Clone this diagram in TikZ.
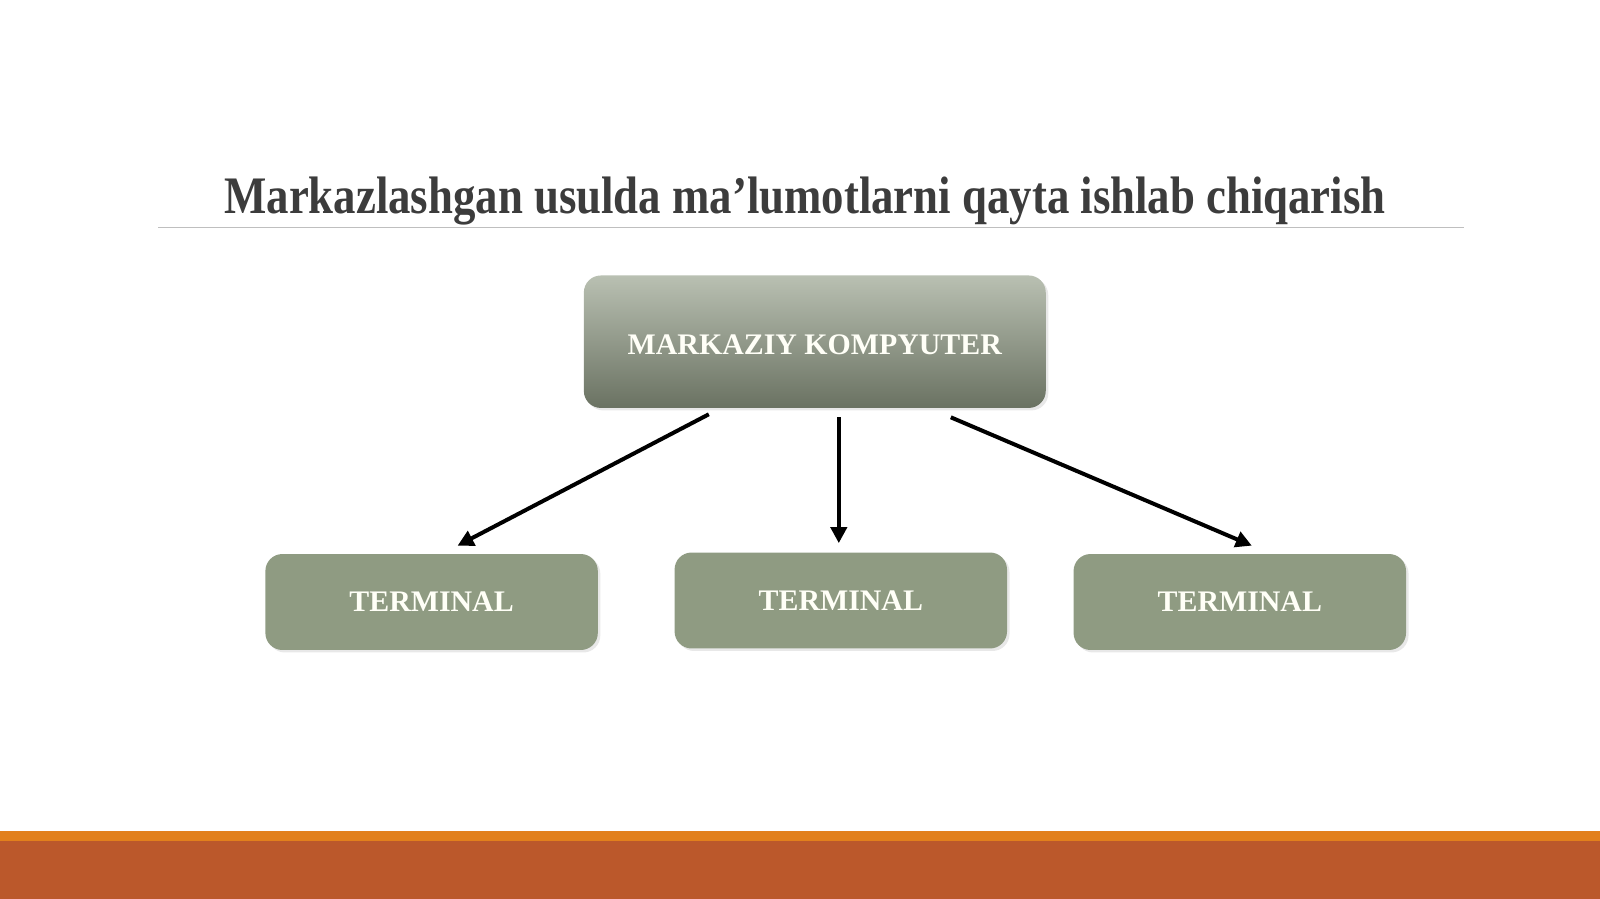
\documentclass[tikz,border=0pt]{standalone}
\usepackage{fontspec}
\setmainfont{Liberation Serif}
\usetikzlibrary{arrows.meta,calc,shadows}
\definecolor{titlegray}{HTML}{3C3C3C}
\definecolor{boxtop}{HTML}{B9C0B2}
\definecolor{boxbot}{HTML}{6A7262}
\definecolor{termfill}{HTML}{8F9B82}
\definecolor{barorange}{HTML}{E2801C}
\definecolor{barrust}{HTML}{BB582B}

\begin{document}
\begin{tikzpicture}[x=0.02cm,y=-0.02cm,
	box/.style={rounded corners=0.34cm, inner sep=0pt, text=white!97!yellow,
		font=\bfseries\fontsize{17}{20}\selectfont,
		drop shadow={opacity=0.18, shadow xshift=0.05cm, shadow yshift=-0.05cm}},
	arr/.style={-{Triangle[length=0.32cm,width=0.32cm]}, line width=0.08cm}]
\useasboundingbox (0,0) rectangle (1600,899);
\node[anchor=base, text=titlegray, font=\bfseries\fontsize{30}{34}\selectfont] (title) at (805,213)
	{\scalebox{0.85}[1]{Markazlashgan usulda ma’lumotlarni qayta ishlab chiqarish}};
\draw[black!25, line width=0.03cm] (158,227.5) -- (1464,227.5);
\node[box, top color=boxtop, bottom color=boxbot, minimum width=9.24cm, minimum height=2.65cm]
	(top) at (814.8,341.7) {\raisebox{-0.06cm}[\height][\depth]{MARKAZIY KOMPYUTER}};
		\foreach \n/\x/\y in {1/431.6/602, 2/840.8/600.5, 3/1239.8/602} % terminals
		\node[box, fill=termfill, minimum width=6.65cm, minimum height=1.92cm] (t\n) at (\x,\y) {TERMINAL};
		\foreach \n/\a/\b/\c/\d in {1/-106/6/26/-8, 2/24/9/-2/-9, 3/136/9/12/-8} % arrows
		\draw[arr] ($(top.south)+(\a,\b)$) -- ($(t\n.north)+(\c,\d)$);
\fill[barrust] (0,841) rectangle (1600,899);
\fill[barorange] (0,831) rectangle (1600,841);
\end{tikzpicture}
\end{document}
